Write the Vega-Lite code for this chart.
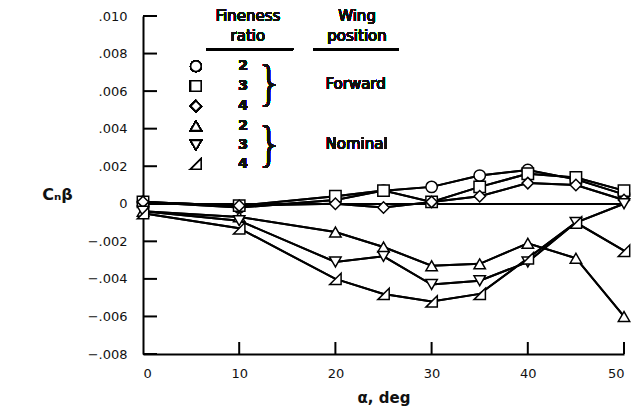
{
  "$schema": "https://vega.github.io/schema/vega-lite/v6.json",
  "width": 481,
  "height": 338,
  "autosize": "none",
  "padding": {"left": 143, "top": 16, "right": 11, "bottom": 61},
  "background": "white",
  "config": {
    "view": {"stroke": null},
    "font": "DejaVu Sans",
    "text": {"font": "DejaVu Sans", "color": "#111", "fontWeight": "normal"},
    "axis": {
      "grid": false,
      "ticks": false,
      "domainColor": "black",
      "domainWidth": 2,
      "labelColor": "#111",
      "labelFont": "DejaVu Sans",
      "labelFontSize": 13,
      "labelOverlap": false,
      "labelBound": false,
      "titleColor": "#111",
      "titleFont": "DejaVu Sans"
    }
  },
  "resolve": {"axis": {"x": "independent", "y": "independent"}},
  "datasets": {
    "curves": [
      {"series": "F2", "alpha": 0, "cn": 0.0001},
      {"series": "F2", "alpha": 10, "cn": -0.0002},
      {"series": "F2", "alpha": 20, "cn": 0.0002},
      {"series": "F2", "alpha": 25, "cn": 0.0007},
      {"series": "F2", "alpha": 30, "cn": 0.0009},
      {"series": "F2", "alpha": 35, "cn": 0.0015},
      {"series": "F2", "alpha": 40, "cn": 0.0018},
      {"series": "F2", "alpha": 45, "cn": 0.0013},
      {"series": "F2", "alpha": 50, "cn": 0.0005},
      {"series": "F3", "alpha": 0, "cn": 0.0001},
      {"series": "F3", "alpha": 10, "cn": -0.0001},
      {"series": "F3", "alpha": 20, "cn": 0.0004},
      {"series": "F3", "alpha": 25, "cn": 0.0007},
      {"series": "F3", "alpha": 30, "cn": 0.0001},
      {"series": "F3", "alpha": 35, "cn": 0.0009},
      {"series": "F3", "alpha": 40, "cn": 0.0016},
      {"series": "F3", "alpha": 45, "cn": 0.0014},
      {"series": "F3", "alpha": 50, "cn": 0.0007},
      {"series": "F4", "alpha": 0, "cn": 0.0001},
      {"series": "F4", "alpha": 10, "cn": -0.0001},
      {"series": "F4", "alpha": 20, "cn": 0.0000},
      {"series": "F4", "alpha": 25, "cn": -0.0002},
      {"series": "F4", "alpha": 30, "cn": 0.0001},
      {"series": "F4", "alpha": 35, "cn": 0.0004},
      {"series": "F4", "alpha": 40, "cn": 0.0011},
      {"series": "F4", "alpha": 45, "cn": 0.0010},
      {"series": "F4", "alpha": 50, "cn": 0.0002},
      {"series": "N2", "alpha": 0, "cn": -0.0004},
      {"series": "N2", "alpha": 10, "cn": -0.0007},
      {"series": "N2", "alpha": 20, "cn": -0.0015},
      {"series": "N2", "alpha": 25, "cn": -0.0023},
      {"series": "N2", "alpha": 30, "cn": -0.0033},
      {"series": "N2", "alpha": 35, "cn": -0.0032},
      {"series": "N2", "alpha": 40, "cn": -0.0021},
      {"series": "N2", "alpha": 45, "cn": -0.0029},
      {"series": "N2", "alpha": 50, "cn": -0.0060},
      {"series": "N3", "alpha": 0, "cn": -0.0004},
      {"series": "N3", "alpha": 10, "cn": -0.0009},
      {"series": "N3", "alpha": 20, "cn": -0.0031},
      {"series": "N3", "alpha": 25, "cn": -0.0028},
      {"series": "N3", "alpha": 30, "cn": -0.0043},
      {"series": "N3", "alpha": 35, "cn": -0.0041},
      {"series": "N3", "alpha": 40, "cn": -0.0031},
      {"series": "N3", "alpha": 45, "cn": -0.0010},
      {"series": "N3", "alpha": 50, "cn": 0.0000},
      {"series": "N4", "alpha": 0, "cn": -0.0005},
      {"series": "N4", "alpha": 10, "cn": -0.0013},
      {"series": "N4", "alpha": 20, "cn": -0.0040},
      {"series": "N4", "alpha": 25, "cn": -0.0048},
      {"series": "N4", "alpha": 30, "cn": -0.0052},
      {"series": "N4", "alpha": 35, "cn": -0.0048},
      {"series": "N4", "alpha": 40, "cn": -0.0029},
      {"series": "N4", "alpha": 45, "cn": -0.0010},
      {"series": "N4", "alpha": 50, "cn": -0.0025}
    ],
    "yticks": [
      {"v": -0.008}, {"v": -0.006}, {"v": -0.004}, {"v": -0.002}, {"v": 0},
      {"v": 0.002}, {"v": 0.004}, {"v": 0.006}, {"v": 0.008}, {"v": 0.01}
    ],
    "xticks": [{"v": 10}, {"v": 20}, {"v": 30}, {"v": 40}, {"v": 50}]
  },
  "data": {"name": "curves"},
  "layer": [
    {
      "mark": {"type": "line", "color": "black", "strokeWidth": 2},
      "encoding": {
        "x": {
          "field": "alpha", "type": "quantitative",
          "scale": {"domain": [0, 50], "nice": false, "zero": false},
          "axis": {
            "orient": "bottom",
            "values": [0, 10, 20, 30, 40, 50],
            "labelOverlap": false,
            "ticks": false,
            "labelPadding": 13,
            "title": "α, deg",
            "titleFontSize": 15,
            "titleFontWeight": "bold",
            "titlePadding": 10
          }
        },
        "y": {
          "field": "cn", "type": "quantitative",
          "scale": {"domain": [-0.008, 0.01], "nice": false, "zero": false},
          "axis": {
            "orient": "left",
            "values": [-0.008, -0.006, -0.004, -0.002, 0, 0.002, 0.004, 0.006, 0.008, 0.01],
            "labelExpr": "datum.value == 0 ? '0' : replace(format(datum.value, '.3f'), '0.', '.')",
            "labelOverlap": false,
            "ticks": false,
            "labelPadding": 16,
            "title": "Cₙβ",
            "titleAngle": 0,
            "titleX": -86,
            "titleY": 178,
            "titleAlign": "center",
            "titleBaseline": "middle",
            "titleFontSize": 16,
            "titleFontWeight": "bold"
          }
        },
        "detail": {"field": "series"}
      }
    },
    {
      "data": {"name": "yticks"},
      "mark": {"type": "rule", "color": "black", "strokeWidth": 2},
      "encoding": {
        "y": {"field": "v", "type": "quantitative", "axis": null},
        "x": {"datum": 0, "axis": null},
        "x2": {"datum": 1.455}
      }
    },
    {
      "data": {"name": "xticks"},
      "mark": {"type": "rule", "color": "black", "strokeWidth": 2},
      "encoding": {
        "x": {"field": "v", "type": "quantitative", "axis": null},
        "y": {"datum": -0.008, "axis": null},
        "y2": {"datum": -0.00736}
      }
    },
    {
      "mark": {"type": "rule", "color": "black", "strokeWidth": 1.5},
      "encoding": {"x": {"datum": 0, "axis": null}, "x2": {"datum": 50}, "y": {"datum": 0, "axis": null}}
    },
    {
      "mark": {"type": "line", "color": "black", "strokeWidth": 2},
      "encoding": {
        "x": {"field": "alpha", "type": "quantitative", "axis": null},
        "y": {"field": "cn", "type": "quantitative", "axis": null},
        "detail": {"field": "series"}
      }
    },
    {
      "mark": {"type": "point", "filled": true, "fill": "white", "stroke": "black", "strokeWidth": 1.5, "size": 130, "opacity": 1},
      "encoding": {
        "x": {"field": "alpha", "type": "quantitative", "axis": null},
        "y": {"field": "cn", "type": "quantitative", "axis": null},
        "shape": {
          "field": "series", "type": "nominal",
          "scale": {
            "domain": ["F2", "F3", "F4", "N2", "N3", "N4"],
            "range": ["circle", "square", "diamond", "triangle-up", "triangle-down", "M-1,1L1,1L1,-1Z"]
          },
          "legend": null
        }
      }
    },
    {"mark": {"type": "point", "filled": true, "fill": "white", "stroke": "black", "strokeWidth": 1.5, "size": 110, "opacity": 1}, "encoding": {"x": {"datum": 5.5, "axis": null}, "y": {"datum": 0.00733, "axis": null}, "shape": {"datum": "F2", "legend": null}}},
    {"mark": {"type": "point", "filled": true, "fill": "white", "stroke": "black", "strokeWidth": 1.5, "size": 110, "opacity": 1}, "encoding": {"x": {"datum": 5.5, "axis": null}, "y": {"datum": 0.00627, "axis": null}, "shape": {"datum": "F3", "legend": null}}},
    {"mark": {"type": "point", "filled": true, "fill": "white", "stroke": "black", "strokeWidth": 1.5, "size": 110, "opacity": 1}, "encoding": {"x": {"datum": 5.5, "axis": null}, "y": {"datum": 0.0052, "axis": null}, "shape": {"datum": "F4", "legend": null}}},
    {"mark": {"type": "point", "filled": true, "fill": "white", "stroke": "black", "strokeWidth": 1.5, "size": 110, "opacity": 1}, "encoding": {"x": {"datum": 5.5, "axis": null}, "y": {"datum": 0.00414, "axis": null}, "shape": {"datum": "N2", "legend": null}}},
    {"mark": {"type": "point", "filled": true, "fill": "white", "stroke": "black", "strokeWidth": 1.5, "size": 110, "opacity": 1}, "encoding": {"x": {"datum": 5.5, "axis": null}, "y": {"datum": 0.00313, "axis": null}, "shape": {"datum": "N3", "legend": null}}},
    {"mark": {"type": "point", "filled": true, "fill": "white", "stroke": "black", "strokeWidth": 1.5, "size": 110, "opacity": 1}, "encoding": {"x": {"datum": 5.5, "axis": null}, "y": {"datum": 0.00212, "axis": null}, "shape": {"datum": "N4", "legend": null}}},
    {"mark": {"type": "text", "text": "2", "fontSize": 14, "fontWeight": "bold"}, "encoding": {"x": {"datum": 10.4, "axis": null}, "y": {"datum": 0.00733, "axis": null}}},
    {"mark": {"type": "text", "text": "3", "fontSize": 14, "fontWeight": "bold"}, "encoding": {"x": {"datum": 10.4, "axis": null}, "y": {"datum": 0.00627, "axis": null}}},
    {"mark": {"type": "text", "text": "4", "fontSize": 14, "fontWeight": "bold"}, "encoding": {"x": {"datum": 10.4, "axis": null}, "y": {"datum": 0.0052, "axis": null}}},
    {"mark": {"type": "text", "text": "2", "fontSize": 14, "fontWeight": "bold"}, "encoding": {"x": {"datum": 10.4, "axis": null}, "y": {"datum": 0.00414, "axis": null}}},
    {"mark": {"type": "text", "text": "3", "fontSize": 14, "fontWeight": "bold"}, "encoding": {"x": {"datum": 10.4, "axis": null}, "y": {"datum": 0.00313, "axis": null}}},
    {"mark": {"type": "text", "text": "4", "fontSize": 14, "fontWeight": "bold"}, "encoding": {"x": {"datum": 10.4, "axis": null}, "y": {"datum": 0.00212, "axis": null}}},
    {"mark": {"type": "text", "text": "Fineness", "fontSize": 15}, "encoding": {"x": {"datum": 10.9, "axis": null}, "y": {"datum": 0.0100, "axis": null}}},
    {"mark": {"type": "text", "text": "ratio", "fontSize": 15}, "encoding": {"x": {"datum": 10.9, "axis": null}, "y": {"datum": 0.00892, "axis": null}}},
    {"mark": {"type": "text", "text": "Wing", "fontSize": 15}, "encoding": {"x": {"datum": 22.25, "axis": null}, "y": {"datum": 0.0100, "axis": null}}},
    {"mark": {"type": "text", "text": "position", "fontSize": 15}, "encoding": {"x": {"datum": 22.25, "axis": null}, "y": {"datum": 0.00892, "axis": null}}},
    {"mark": {"type": "rule", "color": "black", "strokeWidth": 2}, "encoding": {"x": {"datum": 6.55, "axis": null}, "x2": {"datum": 15.6}, "y": {"datum": 0.00823, "axis": null}}},
    {"mark": {"type": "rule", "color": "black", "strokeWidth": 2}, "encoding": {"x": {"datum": 17.7, "axis": null}, "x2": {"datum": 26.6}, "y": {"datum": 0.00823, "axis": null}}},
    {"mark": {"type": "text", "text": "}", "fontSize": 46, "fontWeight": 200}, "encoding": {"x": {"datum": 13.2, "axis": null}, "y": {"datum": 0.0063, "axis": null}}},
    {"mark": {"type": "text", "text": "}", "fontSize": 46, "fontWeight": 200}, "encoding": {"x": {"datum": 13.2, "axis": null}, "y": {"datum": 0.0031, "axis": null}}},
    {"mark": {"type": "text", "text": "Forward", "fontSize": 15}, "encoding": {"x": {"datum": 22.1, "axis": null}, "y": {"datum": 0.00637, "axis": null}}},
    {"mark": {"type": "text", "text": "Nominal", "fontSize": 15}, "encoding": {"x": {"datum": 22.2, "axis": null}, "y": {"datum": 0.00319, "axis": null}}}
  ]
}
